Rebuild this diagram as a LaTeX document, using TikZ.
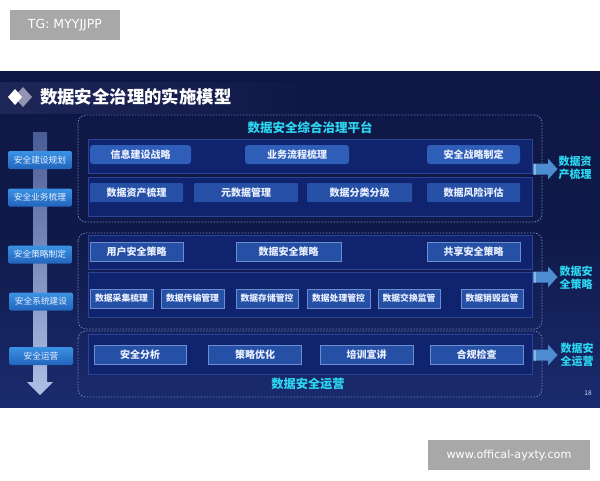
\documentclass[tikz,border=0pt]{standalone}
\usepackage{fontspec}
\setmainfont{Noto Sans CJK SC}
\newfontfamily\wmfont{DejaVu Sans}
\usetikzlibrary{calc}
\definecolor{bgtop}{HTML}{0E1744}
\definecolor{bgbot}{HTML}{1A2B6E}
\definecolor{band}{HTML}{1E2758}
\definecolor{cyantxt}{HTML}{2CD6F0}
\definecolor{btnA}{HTML}{3A92E4}
\definecolor{btnB}{HTML}{2264BC}
\definecolor{boxA}{HTML}{2F5EB8}
\definecolor{boxB}{HTML}{2550A6}
\definecolor{panelfill}{HTML}{10236E}
\definecolor{paneledge}{HTML}{2C4396}
\definecolor{dashc}{HTML}{6E7FC0}
\definecolor{boxtxt}{HTML}{EAF0FF}
\definecolor{wmgray}{HTML}{A8A8A8}
\definecolor{arrowc}{HTML}{4E8CD2}
\definecolor{barTop}{HTML}{4A5C96}
\definecolor{barBot}{HTML}{AFC0E6}
\tikzset{
  lbl/.style={rounded corners=2pt, top color=btnA, bottom color=btnB, text=boxtxt,
    font=\fontsize{8.7}{10}\selectfont, minimum width=64, minimum height=18, inner sep=0},
  tbox/.style={rounded corners=3pt, fill=boxA, text=boxtxt,
    font=\fontsize{10}{12}\selectfont\bfseries, minimum height=19, inner sep=0},
  mbox/.style={fill=boxB, draw=boxA!70!white, line width=0.4pt, text=boxtxt,
    font=\fontsize{10}{12}\selectfont\bfseries, minimum height=19, inner sep=0},
  sbox/.style={mbox, font=\fontsize{8.8}{10}\selectfont\bfseries},
  panel/.style={fill=panelfill, draw=paneledge, line width=0.6pt},
  dashbox/.style={draw=dashc, dash pattern=on 1.5pt off 1.5pt, line width=0.8pt, rounded corners=8pt},
  cyantitle/.style={text=cyantxt, font=\fontsize{12.5}{14}\selectfont\bfseries, inner sep=0},
  sidetxt/.style={text=cyantxt, font=\fontsize{11}{13}\selectfont\bfseries, align=center, inner sep=0},
  blockarrow/.style={fill=arrowc},
  wm/.style={fill=wmgray, text=white, inner sep=0}
}
\begin{document}
\begin{tikzpicture}[x=1pt,y=-1pt]
\useasboundingbox (0,0) rectangle (600,480);
\fill[white] (0,0) rectangle (600,480);
% slide background
\shade[top color=bgtop, bottom color=bgbot, middle color=bgtop!85!bgbot] (0,71) rectangle (600,407);
% rays at bottom
\begin{scope}
\clip (0,300) rectangle (600,407);
\foreach \a in {20,25,...,160}{
  \draw[white, opacity=0.10, line width=0.5pt] (310,430) -- ++({-\a}:-260);
}
\end{scope}
% title band
\shade[left color=band, right color=bgtop] (0,82) rectangle (320,113);
% diamonds
\fill[white!70!blue!40!gray] (23,87) -- (32,97) -- (23,107) -- (14,97) -- cycle;
\fill[white] (15,89) -- (22,97) -- (15,105) -- (8,97) -- cycle;
\node[text=white, font=\fontsize{17.4}{20}\selectfont\bfseries, anchor=west, inner sep=0] (title) at (40,97) {数据安全治理的实施模型};

% left vertical arrow
\shade[top color=barTop, bottom color=barBot]
  (33,132) -- (47,132) -- (47,382) -- (53,382) -- (40,395) -- (27,382) -- (33,382) -- cycle;

% left labels
\node[lbl] (l1) at (40,160) {安全建设规划};
\node[lbl] (l2) at (40,197.5) {安全业务梳理};
\node[lbl] (l3) at (40,254.5) {安全策略制定};
\node[lbl] (l4) at (41,301.5) {安全系统建设};
\node[lbl] (l5) at (41,356) {安全运营};

% ===== top block =====
\draw[dashbox] (78,115) rectangle (542,222);
\node[cyantitle] (ttitle) at (310,128) {数据安全综合治理平台};
\draw[panel] (88,139) rectangle (532,173);
\draw[panel] (88,177) rectangle (532,216);
\node[tbox, minimum width=101] (t11) at (140.5,154.5) {信息建设战略};
\node[tbox, minimum width=104] (t12) at (297,154.5) {业务流程梳理};
\node[tbox, minimum width=93] (t13) at (473.5,154.5) {安全战略制定};
\node[tbox, rounded corners=1pt, fill=boxB, minimum width=93] (t21) at (136.5,192.5) {数据资产梳理};
\node[tbox, rounded corners=1pt, fill=boxB, minimum width=104] (t22) at (246,192.5) {元数据管理};
\node[tbox, rounded corners=1pt, fill=boxB, minimum width=105] (t23) at (359.5,192.5) {数据分类分级};
\node[tbox, rounded corners=1pt, fill=boxB, minimum width=93] (t24) at (473.5,192.5) {数据风险评估};

% ===== middle block =====
\draw[dashbox] (78,233) rectangle (542,329);
\draw[panel] (88,235) rectangle (532,269);
\draw[panel] (88,272) rectangle (532,317);
\node[mbox, minimum width=93] (m11) at (136.5,251.5) {用户安全策略};
\node[mbox, minimum width=105] (m12) at (288.5,251.5) {数据安全策略};
\node[mbox, minimum width=93] (m13) at (473.5,251.5) {共享安全策略};
\node[sbox, minimum width=63] (m21) at (121.5,298.5) {数据采集梳理};
\node[sbox, minimum width=63] (m22) at (192.5,298.5) {数据传输管理};
\node[sbox, minimum width=62] (m23) at (267,298.5) {数据存储管控};
\node[sbox, minimum width=63] (m24) at (338.5,298.5) {数据处理管控};
\node[sbox, minimum width=62] (m25) at (409,298.5) {数据交换监管};
\node[sbox, minimum width=62] (m26) at (492,298.5) {数据销毁监管};

% ===== bottom block =====
\draw[dashbox] (78,331) rectangle (542,397);
\draw[panel] (88,334) rectangle (532,374);
\node[mbox, minimum width=92] (b1) at (140,354.5) {安全分析};
\node[mbox, minimum width=93] (b2) at (255,354.5) {策略优化};
\node[mbox, minimum width=93] (b3) at (366.5,354.5) {培训宣讲};
\node[mbox, minimum width=93] (b4) at (476.5,354.5) {合规检查};
\node[cyantitle, font=\fontsize{12.2}{14}\selectfont\bfseries] (btitle) at (308,384) {数据安全运营};

% ===== right arrows and texts =====
\foreach \y/\n in {169/ra, 277/rb, 355/rc}{
  \coordinate (\n) at (533,\y);
  \fill[blockarrow] ($(\n)+(0,-5.5)$) -- ++(15,0) -- ++(0,-5) -- ++(9.5,10.5) -- ++(-9.5,10.5) -- ++(0,-5) -- ++(-15,0) -- cycle;
  \fill[white, opacity=0.35] ($(\n)+(1,-5.5)$) rectangle ++(2,11);
}
\node[sidetxt] (s1) at (575,167.5) {数据资\\产梳理};
\node[sidetxt] (s2) at (576,277.5) {数据安\\全策略};
\node[sidetxt] (s3) at (577,355) {数据安\\全运营};
\node[text=white!85!blue, font=\fontsize{6.5}{7}\selectfont, inner sep=0] (pg) at (588,393) {18};

% ===== watermarks =====
\node[wm, minimum width=110, minimum height=30, font=\wmfont\fontsize{12.5}{14}\selectfont] (wm1) at (65,25) {TG: MYYJJPP};
\node[wm, minimum width=162, minimum height=30, font=\wmfont\fontsize{11.2}{14}\selectfont] (wm2) at (509,455) {www.offical-ayxty.com};
\end{tikzpicture}
\end{document}
